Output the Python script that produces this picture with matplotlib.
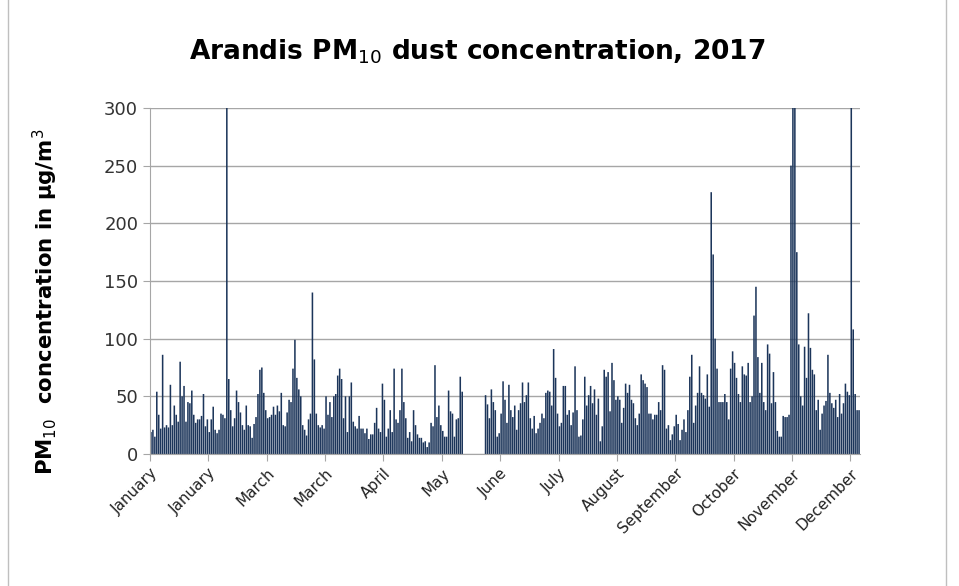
import matplotlib
matplotlib.use("Agg")
import matplotlib.pyplot as plt
import numpy as np
from matplotlib.patches import Rectangle

# DAILY PM10 VALUES (ug/m3), 365 days
jan_a = [19, 21, 15, 54, 34, 22, 86, 23, 25, 23, 60, 25, 42, 34, 28, 80, 50, 59, 28, 45,
         44, 55, 34, 27, 30, 30, 33, 52, 24, 30]
jan_b = [19, 30, 41, 21, 18, 21, 35, 34, 31, 300, 65, 38, 24, 31, 55, 45, 36, 25, 21, 42,
         25, 24, 14, 26, 32, 52, 73, 75, 53, 38, 31, 32, 34, 41, 34]
mar_a = [42, 37, 53, 25, 24, 36, 47, 45, 74, 99, 66, 56, 50, 25, 21, 16, 30, 35, 140, 82,
         35, 25, 23, 25, 22, 50, 34, 45, 32, 50, 52, 68]
mar_b = [74, 65, 31, 50, 19, 50, 62, 28, 24, 22, 33, 22, 22, 18, 22, 13, 17, 17, 27, 40,
         22, 19, 61, 47, 15, 22, 38, 19, 74, 30, 27, 38]
apr_may = [74, 45, 31, 14, 19, 11, 38, 25, 17, 14, 14, 10, 11, 6, 10, 27, 24, 77, 32, 42,
           25, 20, 15, 15, 55, 37, 35, 15, 30, 31, 67, 54]
gap = [np.nan] * 11
jun = [51, 43, 31, 56, 45, 38, 15, 18, 35, 63, 47, 27, 60, 38, 32, 42, 21, 38, 44, 62,
       45, 51, 62]
jul = [31, 22, 33, 18, 22, 27, 35, 31, 53, 55, 54, 42, 91, 66, 35, 24, 27, 59, 59, 34,
       38, 25, 36, 76, 38, 15, 16, 30, 67, 42, 51, 59]
aug = [44, 56, 34, 48, 11, 24, 73, 67, 71, 37, 79, 64, 47, 50, 47, 27, 40, 61, 53, 60,
       47, 44, 31, 25, 35, 69, 64, 61, 58, 35, 35, 30, 34]
sep = [34, 45, 38, 77, 73, 22, 25, 12, 17, 24, 34, 26, 12, 21, 30, 19, 38, 67, 86, 27,
       42, 53, 76, 53, 51, 48, 69, 41, 227, 173, 100, 74, 45, 45]
octo = [45, 52, 45, 30, 74, 89, 79, 66, 52, 45, 76, 69, 68, 79, 45, 50, 120, 145, 84, 53,
        79, 45, 38, 95, 87, 44, 71, 45, 20, 15, 15, 33, 32]
nov_dec = [32, 34, 250, 300, 300, 175, 95, 50, 42, 93, 66, 122, 92, 73, 69, 38, 47, 21, 35, 42,
           46, 86, 53, 44, 40, 47, 32, 52, 35, 44, 61, 54, 51, 300, 108, 52, 38, 38]

pm10 = jan_a + jan_b + mar_a + mar_b + apr_may + gap + jun + jul + aug + sep + octo + nov_dec
days = np.arange(len(pm10))

tick_labels = ['January', 'January', 'March', 'March', 'April', 'May', 'June', 'July',
               'August', 'September', 'October', 'November', 'December']

fig = plt.figure(figsize=(9.59, 5.86), dpi=100)
ax = fig.add_axes([0.1564, 0.2253, 0.7404, 0.5904])

bars = ax.bar(days, pm10, width=0.8, color='#1c355a', linewidth=0)
for b in bars:
    b.set_snap(False)

ax.set_xlim(-0.5, len(pm10) - 0.5)
ax.set_ylim(0, 300)
ax.set_yticks(np.arange(0, 301, 50))
ax.yaxis.grid(True, color='#a6a6a6', linewidth=1)
ax.set_axisbelow(True)

ax.set_xticks(np.arange(len(tick_labels)) * 30 - 0.5)
ax.set_xticklabels(tick_labels, rotation=45, ha='right', rotation_mode='anchor', fontsize=11)
ax.tick_params(axis='y', labelsize=13, length=5, color='#a6a6a6', labelcolor='#333333')
ax.tick_params(axis='x', length=5, color='#a6a6a6', labelcolor='#222222')
for s in ['top', 'right']:
    ax.spines[s].set_visible(False)
for s in ['left', 'bottom']:
    ax.spines[s].set_color('#a6a6a6')

ax.set_ylabel('PM$_{10}$  concentration in µg/m$^3$', fontsize=15.3, fontweight='bold')
ax.yaxis.set_label_coords(-0.127, 0.44)
fig.text(0.498, 0.912, 'Arandis PM$_{10}$ dust concentration, 2017', ha='center', va='center',
         fontsize=19, fontweight='bold')

# chart area border
fig.patches.append(Rectangle((0.008, -0.01), 0.978, 1.02, transform=fig.transFigure,
                             fill=False, edgecolor='#bfbfbf', linewidth=1))

fig.savefig('out.png', dpi=100)
